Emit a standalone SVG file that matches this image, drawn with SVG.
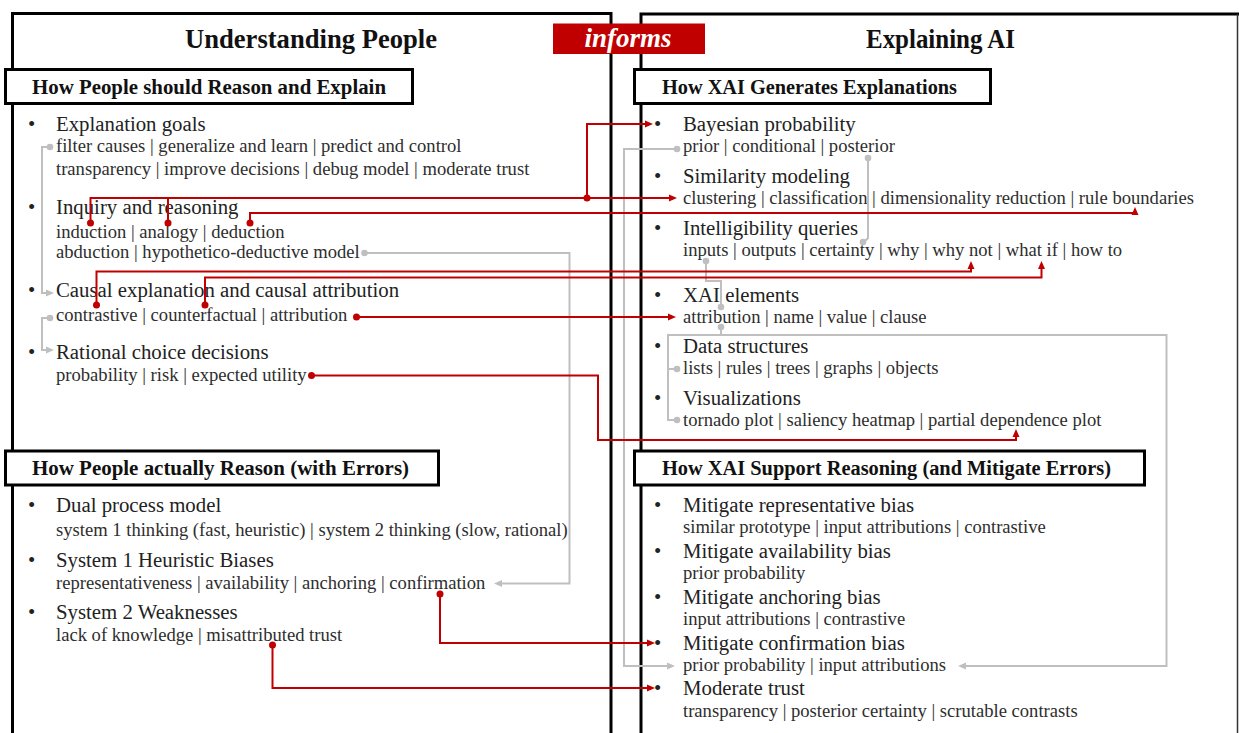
<svg xmlns="http://www.w3.org/2000/svg" width="1239" height="733" viewBox="0 0 1239 733">
<defs>
<style>
.t{font-family:"Liberation Serif","Times New Roman",serif;font-size:20.8px;fill:#222}
.s{font-family:"Liberation Serif","Times New Roman",serif;font-size:18.6px;fill:#2e2e2e}
.h{font-family:"Liberation Serif","Times New Roman",serif;font-size:20.8px;font-weight:bold;fill:#111}
.big{font-family:"Liberation Serif","Times New Roman",serif;font-size:26.5px;font-weight:bold;fill:#111}
.inf{font-family:"Liberation Serif","Times New Roman",serif;font-size:27px;font-weight:bold;font-style:italic;fill:#fff;text-anchor:middle}
.panel{fill:none;stroke:#000;stroke-width:3}
.hbox{fill:#fff;stroke:#000;stroke-width:3}
.r{fill:none;stroke:#c00000;stroke-width:2}
.g{fill:none;stroke:#bfbfbf;stroke-width:2}
.rd{fill:#c00000}
.gd{fill:#bfbfbf}
</style>
<marker id="ar" markerUnits="userSpaceOnUse" markerWidth="8" markerHeight="8" refX="5" refY="4" orient="auto" viewBox="0 0 8 8"><path d="M0,0.5 L8,4 L0,7.5z" fill="#c00000"/></marker>
<marker id="ag" markerUnits="userSpaceOnUse" markerWidth="8" markerHeight="8" refX="5" refY="4" orient="auto" viewBox="0 0 8 8"><path d="M0,0.5 L8,4 L0,7.5z" fill="#bfbfbf"/></marker>
</defs>
<rect width="1239" height="733" fill="#fff"/>

<g id="panel-understanding-people">
<rect class="panel" x="12.5" y="13.5" width="598.5" height="740"/>
<text class="big" x="185" y="48.3" textLength="252" lengthAdjust="spacingAndGlyphs">Understanding People</text>
</g>
<g id="panel-explaining-ai">
<path class="panel" d="M641,745 V14 H1239"/>
<line x1="1237.5" y1="14" x2="1237.5" y2="745" stroke="#333" stroke-width="1.5"/>
<text class="big" x="866" y="48.3" textLength="149" lengthAdjust="spacingAndGlyphs">Explaining AI</text>
</g>
<g id="informs">
<rect x="553" y="23.5" width="152" height="30.5" fill="#c00000"/>
<text class="inf" x="628" y="46.7">informs</text>
</g>

<g id="header-should-reason">
<rect class="hbox" x="5.5" y="69.5" width="407" height="34"/>
<text class="h" x="32" y="93.5" textLength="354" lengthAdjust="spacingAndGlyphs">How People should Reason and Explain</text>
</g>
<g id="header-xai-generates">
<rect class="hbox" x="634.5" y="69.5" width="356" height="34"/>
<text class="h" x="662" y="94" textLength="295" lengthAdjust="spacingAndGlyphs">How XAI Generates Explanations</text>
</g>
<g id="header-actually-reason">
<rect class="hbox" x="5.5" y="451" width="433" height="34"/>
<text class="h" x="32" y="475" textLength="377" lengthAdjust="spacingAndGlyphs">How People actually Reason (with Errors)</text>
</g>
<g id="header-xai-support">
<rect class="hbox" x="634.5" y="451" width="510" height="34"/>
<text class="h" x="662" y="475" textLength="449" lengthAdjust="spacingAndGlyphs">How XAI Support Reasoning (and Mitigate Errors)</text>
</g>

<g id="explanation-goals">
<text class="t" x="28" y="130.7">•</text>
<text class="t" x="56" y="130.7">Explanation goals</text>
<text class="s" x="56" y="151.7">filter causes | generalize and learn | predict and control</text>
<text class="s" x="56" y="175">transparency | improve decisions | debug model | moderate trust</text>
</g>
<g id="inquiry-reasoning">
<text class="t" x="28" y="214">•</text>
<text class="t" x="56" y="214">Inquiry and reasoning</text>
<text class="s" x="56" y="238">induction | analogy | deduction</text>
<text class="s" x="56" y="258.3">abduction | hypothetico-deductive model</text>
</g>
<g id="causal-explanation">
<text class="t" x="28" y="296.7">•</text>
<text class="t" x="56" y="296.7">Causal explanation and causal attribution</text>
<text class="s" x="56" y="320.7">contrastive | counterfactual | attribution</text>
</g>
<g id="rational-choice">
<text class="t" x="28" y="359.3">•</text>
<text class="t" x="56" y="359.3">Rational choice decisions</text>
<text class="s" x="56" y="380.7">probability | risk | expected utility</text>
</g>

<g id="dual-process">
<text class="t" x="28" y="512.3">•</text>
<text class="t" x="56" y="512.3">Dual process model</text>
<text class="s" x="56" y="536">system 1 thinking (fast, heuristic) | system 2 thinking (slow, rational)</text>
</g>
<g id="system1-biases">
<text class="t" x="28" y="567.3">•</text>
<text class="t" x="56" y="567.3">System 1 Heuristic Biases</text>
<text class="s" x="56" y="589.3">representativeness | availability | anchoring | confirmation</text>
</g>
<g id="system2-weaknesses">
<text class="t" x="28" y="619">•</text>
<text class="t" x="56" y="619">System 2 Weaknesses</text>
<text class="s" x="56" y="640.7">lack of knowledge | misattributed trust</text>
</g>

<g id="bayesian">
<text class="t" x="654" y="130.7">•</text>
<text class="t" x="683" y="130.7">Bayesian probability</text>
<text class="s" x="683" y="151.7">prior | conditional | posterior</text>
</g>
<g id="similarity">
<text class="t" x="654" y="183.3">•</text>
<text class="t" x="683" y="183.3">Similarity modeling</text>
<text class="s" x="683" y="204">clustering | classification | dimensionality reduction | rule boundaries</text>
</g>
<g id="intelligibility">
<text class="t" x="654" y="235">•</text>
<text class="t" x="683" y="235">Intelligibility queries</text>
<text class="s" x="683" y="255.5">inputs | outputs | certainty | why | why not | what if | how to</text>
</g>
<g id="xai-elements">
<text class="t" x="654" y="301.7">•</text>
<text class="t" x="683" y="301.7">XAI elements</text>
<text class="s" x="683" y="322.7">attribution | name | value | clause</text>
</g>
<g id="data-structures">
<text class="t" x="654" y="353.3">•</text>
<text class="t" x="683" y="353.3">Data structures</text>
<text class="s" x="683" y="374.3">lists | rules | trees | graphs | objects</text>
</g>
<g id="visualizations">
<text class="t" x="654" y="405">•</text>
<text class="t" x="683" y="405">Visualizations</text>
<text class="s" x="683" y="426">tornado plot | saliency heatmap | partial dependence plot</text>
</g>

<g id="mitigate-representative">
<text class="t" x="654" y="511.7">•</text>
<text class="t" x="683" y="511.7">Mitigate representative bias</text>
<text class="s" x="683" y="533.3">similar prototype | input attributions | contrastive</text>
</g>
<g id="mitigate-availability">
<text class="t" x="654" y="558.3">•</text>
<text class="t" x="683" y="558.3">Mitigate availability bias</text>
<text class="s" x="683" y="579">prior probability</text>
</g>
<g id="mitigate-anchoring">
<text class="t" x="654" y="604">•</text>
<text class="t" x="683" y="604">Mitigate anchoring bias</text>
<text class="s" x="683" y="625">input attributions | contrastive</text>
</g>
<g id="mitigate-confirmation">
<text class="t" x="654" y="650">•</text>
<text class="t" x="683" y="650">Mitigate confirmation bias</text>
<text class="s" x="683" y="670.7">prior probability | input attributions</text>
</g>
<g id="moderate-trust">
<text class="t" x="654" y="695">•</text>
<text class="t" x="683" y="695">Moderate trust</text>
<text class="s" x="683" y="716.7">transparency | posterior certainty | scrutable contrasts</text>
</g>

<g id="connectors">
<g id="gray-connectors">
<path class="g" d="M50,147 H42 V293 H51" marker-end="url(#ag)"/>
<path class="g" d="M50,318 H42 V350 H51" marker-end="url(#ag)"/>
<path class="g" d="M364.5,253 H569.5 V583.5 H497" marker-end="url(#ag)"/>
<path class="g" d="M677,149 H624 V666 H672" marker-end="url(#ag)"/>
<path class="g" d="M868,158 V238 L864,242"/>
<path class="g" d="M706,261 V281 H721 V307"/>
<path class="g" d="M721,327 V335"/>
<path class="g" d="M677,420 H668 V335 H1166.5 V666 H961" marker-end="url(#ag)"/>
<path class="g" d="M668,369 H677"/>
<circle class="gd" cx="50" cy="147" r="3.3"/>
<circle class="gd" cx="50" cy="318" r="3.3"/>
<circle class="gd" cx="364.5" cy="253" r="3.3"/>
<circle class="gd" cx="677" cy="149" r="3.3"/>
<circle class="gd" cx="868" cy="158" r="3.3"/>
<circle class="gd" cx="863" cy="242" r="3.3"/>
<circle class="gd" cx="706" cy="261" r="3.3"/>
<circle class="gd" cx="721" cy="307" r="3.3"/>
<circle class="gd" cx="721" cy="327" r="3.3"/>
<circle class="gd" cx="677" cy="369" r="3.3"/>
<circle class="gd" cx="677" cy="420" r="3.3"/>
</g>
<g id="red-connectors">
<path class="r" d="M90.5,223 V198 H674" marker-end="url(#ar)"/>
<path class="r" d="M168,223 V198"/>
<path class="r" d="M587,198 V124 H650" marker-end="url(#ar)"/>
<path class="r" d="M250,223 V213 H1135 V210" marker-end="url(#ar)"/>
<path class="r" d="M96.5,305 V271.5 H971 V264" marker-end="url(#ar)"/>
<path class="r" d="M205,305 V277.5 H1041.5 V264" marker-end="url(#ar)"/>
<path class="r" d="M356.5,317 H673" marker-end="url(#ar)"/>
<path class="r" d="M311.5,375.5 H598 V440 H1016 V432" marker-end="url(#ar)"/>
<path class="r" d="M440,594 V643 H652" marker-end="url(#ar)"/>
<path class="r" d="M272.5,645 V688 H652" marker-end="url(#ar)"/>
<circle class="rd" cx="90.5" cy="223" r="3.5"/>
<circle class="rd" cx="168" cy="223" r="3.5"/>
<circle class="rd" cx="250" cy="223" r="3.5"/>
<circle class="rd" cx="587" cy="198" r="3.5"/>
<circle class="rd" cx="96.5" cy="305" r="3.5"/>
<circle class="rd" cx="205" cy="305" r="3.5"/>
<circle class="rd" cx="356.5" cy="317" r="3.5"/>
<circle class="rd" cx="311.5" cy="375.5" r="3.5"/>
<circle class="rd" cx="440" cy="594" r="3.5"/>
<circle class="rd" cx="272.5" cy="645" r="3.5"/>
</g>
</g>
</svg>
